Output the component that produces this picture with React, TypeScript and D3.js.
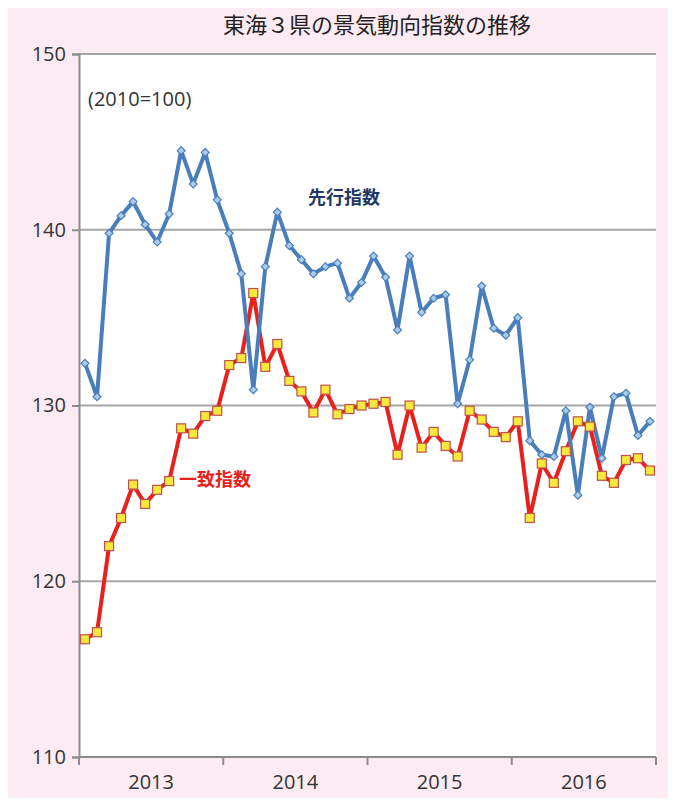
import React, { useEffect, useRef } from 'react';
import * as d3 from 'd3';

// months Jan 2013 .. Dec 2016
const years = ['2013', '2014', '2015', '2016'];
const months = years.flatMap(y => d3.range(1, 13).map(m => `${y}-${m}`));

// 先行指数 (leading index)
const leading = [
  132.4, 130.5, 139.8, 140.8, 141.6, 140.3, 139.3, 140.9, 144.5, 142.6, 144.4, 141.7,
  139.8, 137.5, 130.9, 137.9, 141.0, 139.1, 138.3, 137.5, 137.9, 138.1, 136.1, 137.0,
  138.5, 137.3, 134.3, 138.5, 135.3, 136.1, 136.3, 130.1, 132.6, 136.8, 134.4, 134.0,
  135.0, 128.0, 127.2, 127.1, 129.7, 124.9, 129.9, 127.0, 130.5, 130.7, 128.3, 129.1,
];

// 一致指数 (coincident index)
const coincident = [
  116.7, 117.1, 122.0, 123.6, 125.5, 124.4, 125.2, 125.7, 128.7, 128.4, 129.4, 129.7,
  132.3, 132.7, 136.4, 132.2, 133.5, 131.4, 130.8, 129.6, 130.9, 129.5, 129.8, 130.0,
  130.1, 130.2, 127.2, 130.0, 127.6, 128.5, 127.7, 127.1, 129.7, 129.2, 128.5, 128.2,
  129.1, 123.6, 126.7, 125.6, 127.4, 129.1, 128.8, 126.0, 125.6, 126.9, 127.0, 126.3,
];

const yTicks = [110, 120, 130, 140, 150];

const FONT = '"Noto Sans CJK JP", "Noto Sans", sans-serif';
const NUM_FONT = '"Open Sans", "Noto Sans", sans-serif';

export default function App() {
  const svgRef = useRef<SVGSVGElement>(null);

  useEffect(() => {
    const svg = d3.select(svgRef.current);
    svg.selectAll('*').remove();

    const W = 660, H = 790;
    const left = 71, right = 648, top = 46, bottom = 749;

    svg.append('rect').attr('width', W).attr('height', H).attr('fill', '#fdebf3');
    svg.append('rect')
      .attr('x', left).attr('y', top)
      .attr('width', right - left).attr('height', bottom - top)
      .attr('fill', '#fff');

    const x = d3.scaleBand().domain(months).range([left, right]);
    const xYear = d3.scaleBand().domain(years).range([left, right]);
    const y = d3.scaleLinear().domain([110, 150]).range([bottom, top]);

    // title
    svg.append('text')
      .attr('x', 369).attr('y', 19)
      .attr('text-anchor', 'middle').attr('dominant-baseline', 'middle')
      .attr('font-family', FONT).attr('font-size', 22).attr('fill', '#222')
      .text('東海３県の景気動向指数の推移');

    // gridlines
    svg.append('g').selectAll('line')
      .data(yTicks.filter(d => d > 110))
      .join('line')
      .attr('x1', left).attr('x2', right)
      .attr('y1', d => y(d)).attr('y2', d => y(d))
      .attr('stroke', '#a6a6a6').attr('stroke-width', 2);

    // y axis
    const yAxis = svg.append('g')
      .attr('transform', `translate(${left},0)`)
      .call(d3.axisLeft(y).tickValues(yTicks).tickSize(7).tickPadding(6).tickFormat(d3.format('d')));
    yAxis.select('.domain').attr('stroke', '#8c8c8c').attr('stroke-width', 2);
    yAxis.selectAll('.tick line').attr('stroke', '#8c8c8c').attr('stroke-width', 2);
    yAxis.selectAll('.tick text')
      .attr('font-family', NUM_FONT).attr('font-size', 20).attr('fill', '#333');

    // x axis: ticks at year boundaries
    const xg = svg.append('g');
    xg.append('line')
      .attr('x1', left).attr('x2', right)
      .attr('y1', bottom).attr('y2', bottom)
      .attr('stroke', '#8c8c8c').attr('stroke-width', 2);
    xg.selectAll('line.tk')
      .data([...years.map(d => xYear(d)!), right])
      .join('line')
      .attr('class', 'tk')
      .attr('x1', d => d).attr('x2', d => d)
      .attr('y1', bottom).attr('y2', bottom + 8)
      .attr('stroke', '#8c8c8c').attr('stroke-width', 2);
    xg.selectAll('text')
      .data(years)
      .join('text')
      .attr('x', d => xYear(d)! + xYear.bandwidth() / 2)
      .attr('y', 776)
      .attr('text-anchor', 'middle').attr('dominant-baseline', 'middle')
      .attr('font-family', NUM_FONT).attr('font-size', 20).attr('fill', '#333')
      .text(d => d);

    const cx = (i: number) => x(months[i])! + x.bandwidth() / 2;

    const line = d3.line<number>()
      .x((_, i) => cx(i))
      .y(d => y(d));

    // coincident (red)
    svg.append('path')
      .datum(coincident)
      .attr('fill', 'none')
      .attr('stroke', '#e8211d')
      .attr('stroke-width', 4)
      .attr('stroke-linejoin', 'round')
      .attr('d', line);

    // leading (blue)
    svg.append('path')
      .datum(leading)
      .attr('fill', 'none')
      .attr('stroke', '#4a7ebb')
      .attr('stroke-width', 4)
      .attr('stroke-linejoin', 'round')
      .attr('d', line);

    svg.append('g').selectAll('path')
      .data(leading)
      .join('path')
      .attr('d', d3.symbol(d3.symbolDiamond2, 40))
      .attr('transform', (d, i) => `translate(${cx(i)},${y(d)})`)
      .attr('fill', '#a9cce8')
      .attr('stroke', '#4a7ebb')
      .attr('stroke-width', 1.2);

    svg.append('g').selectAll('rect')
      .data(coincident)
      .join('rect')
      .attr('x', (d, i) => cx(i) - 4.5)
      .attr('y', d => y(d) - 4.5)
      .attr('width', 9).attr('height', 9)
      .attr('fill', '#f6e83c')
      .attr('stroke', '#c0504d')
      .attr('stroke-width', 1.2);

    // annotations
    svg.append('text')
      .attr('x', 80).attr('y', 93)
      .attr('dominant-baseline', 'middle')
      .attr('font-family', NUM_FONT).attr('font-size', 20).attr('fill', '#333')
      .text('(2010=100)');

    svg.append('text')
      .attr('x', 336).attr('y', 191)
      .attr('text-anchor', 'middle').attr('dominant-baseline', 'middle')
      .attr('font-family', FONT).attr('font-size', 18).attr('font-weight', 700)
      .attr('fill', '#1f3864')
      .text('先行指数');

    svg.append('text')
      .attr('x', 207).attr('y', 473)
      .attr('text-anchor', 'middle').attr('dominant-baseline', 'middle')
      .attr('font-family', FONT).attr('font-size', 18).attr('font-weight', 700)
      .attr('fill', '#e8211d')
      .text('一致指数');
  }, []);

  return (
    <svg ref={svgRef} width={660} height={790} style={{ display: 'block' }}></svg>
  );
}
